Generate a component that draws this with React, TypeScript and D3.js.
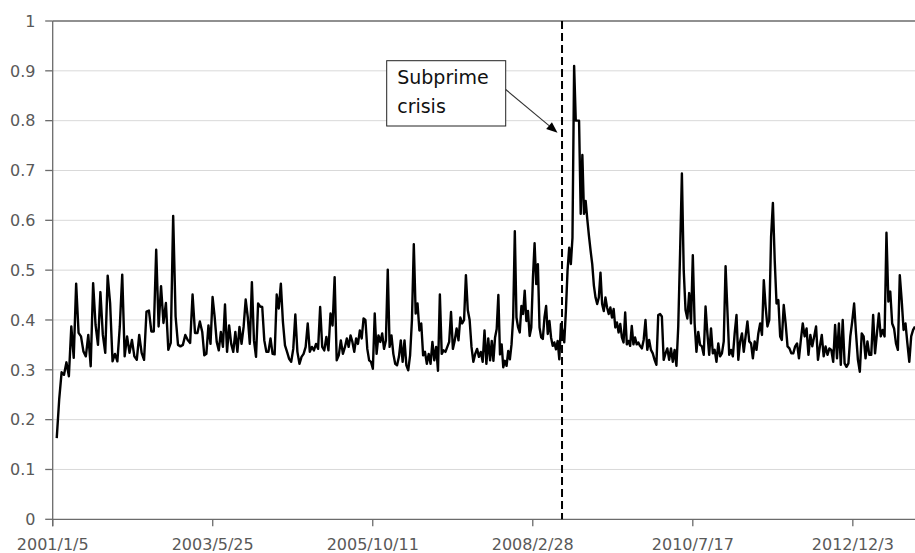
import React from "react";
import * as d3 from "d3";

// axis labels
const xTickLabels = ["2001/1/5", "2003/5/25", "2005/10/11", "2008/2/28", "2010/7/17", "2012/12/3"];
const yTicks = [0, 0.1, 0.2, 0.3, 0.4, 0.5, 0.6, 0.7, 0.8, 0.9, 1];
const axisStart = "2001/1/5";
const axisEnd = "2013/11/6";
const crisisDate = "2008/8/5";
const crisisLabel = ["Subprime", "crisis"];

// series in six stretches (first/last date of each stretch)
const segStarts = ["2001/1/27", "2003/3/29", "2005/5/23", "2007/7/20", "2009/10/13", "2011/11/13"];
const segEnds = ["2003/3/16", "2005/5/13", "2007/7/11", "2009/10/3", "2011/11/4", "2013/11/6"];

const seg1 = [
  0.163, 0.24, 0.295, 0.29, 0.315, 0.287, 0.387, 0.324, 0.473, 0.374, 0.367, 0.337, 0.327, 0.37, 0.307,
  0.474, 0.39, 0.35, 0.456, 0.37, 0.334, 0.489, 0.434, 0.317, 0.332, 0.317, 0.387, 0.491, 0.327, 0.367,
  0.334, 0.36, 0.327, 0.32, 0.37, 0.334, 0.32, 0.417, 0.419, 0.377, 0.377, 0.541, 0.387, 0.468, 0.394,
  0.434, 0.34, 0.354, 0.609, 0.407, 0.35, 0.347, 0.35, 0.37, 0.36, 0.354, 0.451, 0.374, 0.374, 0.397,
];
const seg2 = [
  0.376, 0.329, 0.332, 0.389, 0.352, 0.446, 0.406, 0.356, 0.339, 0.376, 0.346, 0.431, 0.336, 0.389, 0.352,
  0.336, 0.376, 0.336, 0.386, 0.352, 0.386, 0.441, 0.406, 0.352, 0.476, 0.359, 0.326, 0.433, 0.427, 0.426,
  0.359, 0.336, 0.336, 0.363, 0.332, 0.331, 0.451, 0.423, 0.473, 0.396, 0.349, 0.336, 0.322, 0.316, 0.342,
  0.411, 0.336, 0.312, 0.326, 0.332, 0.346, 0.393, 0.336, 0.346, 0.339, 0.352, 0.342, 0.426, 0.346, 0.339,
  0.366, 0.339, 0.413, 0.389, 0.486, 0.319, 0.329, 0.359, 0.332, 0.346,
];
const seg3 = [
  0.363, 0.346, 0.369, 0.356, 0.336, 0.363, 0.352, 0.379, 0.363, 0.403, 0.4, 0.342, 0.319, 0.316, 0.302,
  0.413, 0.332, 0.369, 0.356, 0.373, 0.342, 0.359, 0.501, 0.346, 0.369, 0.332, 0.312, 0.309, 0.326, 0.359,
  0.316, 0.359, 0.309, 0.299, 0.329, 0.4, 0.552, 0.413, 0.433, 0.379, 0.393, 0.329, 0.336, 0.312, 0.332,
  0.312, 0.356, 0.319, 0.346, 0.298, 0.451, 0.332, 0.339, 0.336, 0.346, 0.356, 0.416, 0.342, 0.359, 0.383,
  0.359, 0.405, 0.393, 0.4, 0.49, 0.42, 0.4, 0.346, 0.316, 0.332, 0.342, 0.326, 0.336, 0.316, 0.379,
  0.312, 0.363, 0.319,
];
const seg4 = [
  0.358, 0.318, 0.365, 0.382, 0.45, 0.331, 0.351, 0.305, 0.318, 0.308, 0.338, 0.321, 0.351, 0.405, 0.578,
  0.405, 0.385, 0.375, 0.428, 0.412, 0.459, 0.398, 0.418, 0.368, 0.385, 0.485, 0.554, 0.472, 0.512, 0.385,
  0.365, 0.362, 0.405, 0.428, 0.372, 0.398, 0.365, 0.348, 0.355, 0.341, 0.358, 0.321, 0.392, 0.378, 0.355,
  0.418, 0.499, 0.545, 0.512, 0.565, 0.91, 0.8, 0.8, 0.8, 0.613, 0.731, 0.613, 0.639, 0.602, 0.569,
  0.539, 0.512, 0.469, 0.445, 0.432, 0.445, 0.495, 0.432, 0.418, 0.445, 0.425, 0.412, 0.425, 0.405, 0.422,
  0.385, 0.395, 0.375, 0.392, 0.365, 0.355, 0.415, 0.351, 0.358, 0.348, 0.388, 0.351, 0.365, 0.351, 0.355,
  0.348,
];
const seg5 = [
  0.343, 0.36, 0.4, 0.34, 0.36, 0.34, 0.333, 0.32, 0.31, 0.41, 0.412, 0.407, 0.32, 0.333, 0.343,
  0.32, 0.343, 0.316, 0.34, 0.308, 0.387, 0.534, 0.694, 0.5, 0.42, 0.403, 0.454, 0.393, 0.53, 0.393,
  0.336, 0.376, 0.35, 0.347, 0.33, 0.427, 0.373, 0.33, 0.383, 0.333, 0.34, 0.316, 0.353, 0.327, 0.333,
  0.357, 0.508, 0.42, 0.33, 0.34, 0.327, 0.373, 0.41, 0.32, 0.357, 0.373, 0.336, 0.367, 0.397, 0.357,
  0.353, 0.323, 0.357, 0.34, 0.373, 0.393, 0.37, 0.48, 0.427, 0.387, 0.4, 0.567, 0.635, 0.52, 0.433,
  0.44, 0.367,
];
const seg6 = [
  0.36, 0.43, 0.393, 0.347, 0.343, 0.333, 0.333, 0.347, 0.353, 0.323, 0.36, 0.393, 0.367, 0.383, 0.33,
  0.37, 0.347, 0.367, 0.387, 0.32, 0.347, 0.37, 0.327, 0.347, 0.33, 0.343, 0.34, 0.316, 0.39, 0.323,
  0.393, 0.31, 0.4, 0.313, 0.306, 0.313, 0.367, 0.397, 0.433, 0.373, 0.32, 0.296, 0.373, 0.367, 0.323,
  0.357, 0.33, 0.33, 0.41, 0.333, 0.373, 0.413, 0.367, 0.38, 0.367, 0.575, 0.437, 0.457, 0.393, 0.383,
  0.353, 0.34, 0.49, 0.44, 0.38, 0.393, 0.353, 0.316, 0.367, 0.38, 0.387,
];
const segValues = [seg1, seg2, seg3, seg4, seg5, seg6];

const W = 915;
const H = 553;
const margin = { top: 21, right: 0, bottom: 33.7, left: 52.7 };
const axisColor = "#6b6b6b";
const labelColor = "#595959";
const font = "'DejaVu Sans', sans-serif";

const parse = d3.timeParse("%Y/%m/%d");

export default function App() {
  const x = d3
    .scaleTime()
    .domain([parse(axisStart), parse(axisEnd)])
    .range([margin.left, W - margin.right]);
  const y = d3
    .scaleLinear()
    .domain([0, 1])
    .range([H - margin.bottom, margin.top]);

  // spread each stretch's values over its dates
  const points = [];
  segValues.forEach((vals, s) => {
    const t0 = parse(segStarts[s]).getTime();
    const t1 = parse(segEnds[s]).getTime();
    vals.forEach((v, k) => {
      points.push({ date: new Date(t0 + ((t1 - t0) * k) / (vals.length - 1)), value: v });
    });
  });

  const line = d3
    .line()
    .x((d) => x(d.date))
    .y((d) => y(d.value));

  const x0 = margin.left;
  const x1 = W - margin.right;
  const yBottom = y(0);
  const crisisX = x(parse(crisisDate));

  // annotation box
  const box = { x: 386.7, y: 60.7, w: 119, h: 65.3 };
  const arrowFrom = [box.x + box.w, 89.5];
  const arrowTo = [557.5, 132.7];
  const ang = Math.atan2(arrowTo[1] - arrowFrom[1], arrowTo[0] - arrowFrom[0]);
  const headLen = 11;
  const headHalf = 4.5;
  const hb = [arrowTo[0] - headLen * Math.cos(ang), arrowTo[1] - headLen * Math.sin(ang)];
  const head = [
    arrowTo,
    [hb[0] + headHalf * Math.sin(ang), hb[1] - headHalf * Math.cos(ang)],
    [hb[0] - headHalf * Math.sin(ang), hb[1] + headHalf * Math.cos(ang)],
  ];

  return (
    <div style={{ position: "absolute", left: 0, top: 0, width: W, height: H, overflow: "hidden", background: "#fff" }}>
      <svg width={W} height={H} style={{ display: "block" }}>
        <rect width={W} height={H} fill="#fff" />
        {/* gridlines */}
        {yTicks
          .filter((t) => t > 0 && t < 1)
          .map((t) => (
            <line key={t} x1={x0} x2={x1} y1={y(t)} y2={y(t)} stroke="#d9d9d9" strokeWidth={1} />
          ))}
        <line x1={x0} x2={x1} y1={y(1)} y2={y(1)} stroke={axisColor} strokeWidth={1.4} />

        {/* y axis */}
        <line x1={x0} x2={x0} y1={y(1)} y2={yBottom + 7} stroke={axisColor} strokeWidth={1.3} />
        {yTicks.map((t) => (
          <g key={t}>
            <line x1={x0 - 7.5} x2={x0} y1={y(t)} y2={y(t)} stroke={axisColor} strokeWidth={1.3} />
            <text
              x={35.5}
              y={y(t)}
              dy="0.36em"
              textAnchor="end"
              fontFamily={font}
              fontSize={16}
              fill={labelColor}
            >
              {String(+t.toFixed(1))}
            </text>
          </g>
        ))}

        {/* x axis */}
        <line x1={x0} x2={x1} y1={yBottom} y2={yBottom} stroke={axisColor} strokeWidth={1.3} />
        {xTickLabels.map((lab) => {
          const tx = x(parse(lab));
          return (
            <g key={lab}>
              <line x1={tx} x2={tx} y1={yBottom} y2={yBottom + 7} stroke={axisColor} strokeWidth={1.3} />
              <text x={tx} y={550} textAnchor="middle" fontFamily={font} fontSize={16} fill={labelColor}>
                {lab}
              </text>
            </g>
          );
        })}

        {/* series */}
        <path d={line(points)} fill="none" stroke="#000" strokeWidth={2.4} strokeLinejoin="round" />

        {/* crisis marker */}
        <line
          x1={crisisX}
          x2={crisisX}
          y1={y(1)}
          y2={yBottom}
          stroke="#000"
          strokeWidth={2}
          strokeDasharray="8,4"
        />

        {/* annotation */}
        <rect x={box.x} y={box.y} width={box.w} height={box.h} fill="#fff" stroke="#222" strokeWidth={1} />
        <text x={box.x + 10.5} y={84} fontFamily={font} fontSize={19} fill="#111">
          {crisisLabel[0]}
        </text>
        <text x={box.x + 10.5} y={113} fontFamily={font} fontSize={19} fill="#111">
          {crisisLabel[1]}
        </text>
        <line x1={arrowFrom[0]} y1={arrowFrom[1]} x2={hb[0]} y2={hb[1]} stroke="#333" strokeWidth={1.1} />
        <polygon points={head.map((p) => p.join(",")).join(" ")} fill="#000" />
      </svg>
    </div>
  );
}
